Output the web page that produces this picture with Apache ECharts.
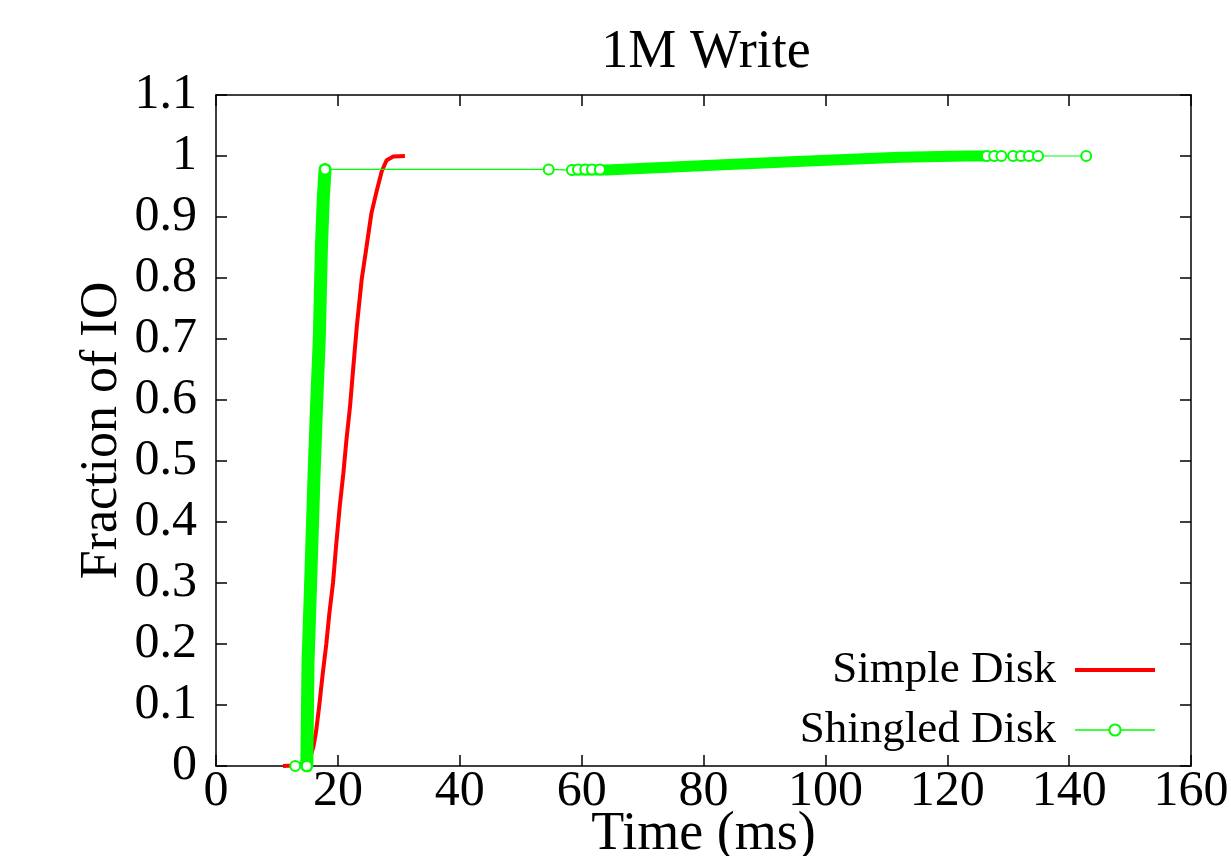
<!DOCTYPE html>
<html>
<head>
<meta charset="UTF-8">
<title>1M Write</title>
<script src="https://cdn.jsdelivr.net/npm/echarts@6/dist/echarts.min.js"></script>
<style>
  html, body { margin: 0; padding: 0; background: #fff; }
  #main { width: 1231px; height: 856px; }
</style>
</head>
<body>
<div id="main"></div>
<script>
// tick labels
var xTickLabels = ['0', '20', '40', '60', '80', '100', '120', '140', '160'];
var yTickLabels = ['0', '0.1', '0.2', '0.3', '0.4', '0.5', '0.6', '0.7', '0.8', '0.9', '1', '1.1'];

// Simple Disk: [time ms, fraction]
var simpleDisk = [
  [11.0, 0], [12.8, 0.001], [14.6, 0.004], [15.4, 0.012], [16.0, 0.032],
  [16.4, 0.055], [16.9, 0.095], [17.5, 0.15], [18.1, 0.2], [18.6, 0.25],
  [19.2, 0.3], [19.7, 0.36], [20.3, 0.425], [20.9, 0.48], [21.4, 0.534],
  [22.0, 0.59], [22.5, 0.65], [23.1, 0.72], [23.9, 0.797], [24.7, 0.851],
  [25.5, 0.906], [26.4, 0.944], [27.2, 0.975], [28.0, 0.993], [29.1, 0.999],
  [31.0, 1.0]
];

// Shingled Disk: sample points with markers
var shingledDisk = [
  [13.0, 0], [14.9, 0], [17.9, 0.978], [54.6, 0.978], [58.4, 0.977],
  [59.4, 0.978], [60.6, 0.978], [61.7, 0.978], [63.0, 0.978],
  [126.5, 1.0], [127.7, 1.0], [128.9, 1.0], [130.8, 1.0], [132.1, 1.0],
  [133.4, 1.0], [134.9, 1.0], [142.8, 1.0]
];

// Shingled Disk: densely packed markers (appear as a solid band)
var shingledRise = [
  [14.9, 0], [15.1, 0.17], [15.4, 0.26], [16.1, 0.48], [16.5, 0.59],
  [16.95, 0.70], [17.3, 0.85], [17.6, 0.93], [17.9, 0.978]
];
var shingledTail = [
  [58.4, 0.977], [64.1, 0.977], [75.0, 0.982], [86.0, 0.987], [95.3, 0.991],
  [112.2, 0.998], [123.2, 1.0], [126.5, 1.0]
];

var FONT = '"Liberation Serif", "Times New Roman", serif';
var myChart = echarts.init(document.getElementById('main'));

function axisBase(pos, min, max, interval) {
  return {
    type: 'value',
    position: pos,
    min: min,
    max: max,
    interval: interval,
    axisLine: { show: true, onZero: false, lineStyle: { color: '#000', width: 1.5 } },
    axisTick: { show: true, inside: true, length: 11, lineStyle: { color: '#000', width: 1.5 } },
    axisLabel: { show: false },
    splitLine: { show: false }
  };
}

var xBottom = axisBase('bottom', 0, 160, 20);
xBottom.axisLabel = {
  show: true, margin: 1, color: '#000', fontFamily: FONT, fontSize: 50,
  formatter: function (v, i) { return xTickLabels[i]; }
};
xBottom.name = 'Time (ms)';
xBottom.nameLocation = 'middle';
xBottom.nameGap = 42;
xBottom.nameMoveOverlap = false;
xBottom.nameTextStyle = { color: '#000', fontFamily: FONT, fontSize: 54 };

var yLeft = axisBase('left', 0, 1.1, 0.1);
yLeft.axisLabel = {
  show: true, margin: 19, color: '#000', fontFamily: FONT, fontSize: 50,
  formatter: function (v, i) { return yTickLabels[i]; }
};
yLeft.name = 'Fraction of IO';
yLeft.nameLocation = 'middle';
yLeft.nameGap = 88;
yLeft.nameMoveOverlap = false;
yLeft.nameTextStyle = { color: '#000', fontFamily: FONT, fontSize: 52 };

var option = {
  backgroundColor: '#fff',
  animation: false,
  title: {
    text: '1M Write',
    left: 701,
    top: 21,
    textAlign: 'center',
    textStyle: { color: '#000', fontFamily: FONT, fontSize: 54, fontWeight: 'normal' }
  },
  grid: { left: 216, right: 40, top: 95, bottom: 90, containLabel: false, outerBoundsMode: 'none' },
  legend: {
    data: [
      { name: 'Simple Disk', itemStyle: { opacity: 0 }, lineStyle: { width: 4 } },
      { name: 'Shingled Disk', lineStyle: { width: 1.5 } }
    ],
    orient: 'vertical',
    right: 69,
    top: 640,
    align: 'right',
    itemWidth: 80,
    itemHeight: 14,
    itemGap: 10,
    textStyle: { color: '#000', fontFamily: FONT, fontSize: 45, lineHeight: 50, padding: [0, 14, 0, 0] }
  },
  xAxis: [xBottom, axisBase('top', 0, 160, 20)],
  yAxis: [yLeft, axisBase('right', 0, 1.1, 0.1)],
  series: [
    {
      name: 'Simple Disk',
      type: 'line',
      data: simpleDisk,
      showSymbol: false,
      symbol: 'none',
      lineStyle: { color: '#ff0000', width: 4 },
      itemStyle: { color: '#ff0000' },
      z: 2
    },
    {
      name: 'band-rise',
      type: 'line',
      data: shingledRise,
      symbol: 'none',
      lineStyle: { color: '#00ff00', width: 13, cap: 'round', join: 'round' },
      z: 3
    },
    {
      name: 'band-tail',
      type: 'line',
      data: shingledTail,
      symbol: 'none',
      lineStyle: { color: '#00ff00', width: 11, cap: 'round', join: 'round' },
      z: 3
    },
    {
      name: 'Shingled Disk',
      type: 'line',
      data: shingledDisk,
      symbol: 'emptyCircle',
      symbolSize: 10,
      showAllSymbol: true,
      lineStyle: { color: '#00ff00', width: 1.2 },
      itemStyle: { color: '#00ff00', borderColor: '#00ff00', borderWidth: 1.5 },
      z: 4
    }
  ]
};
myChart.setOption(option);
</script>
</body>
</html>
